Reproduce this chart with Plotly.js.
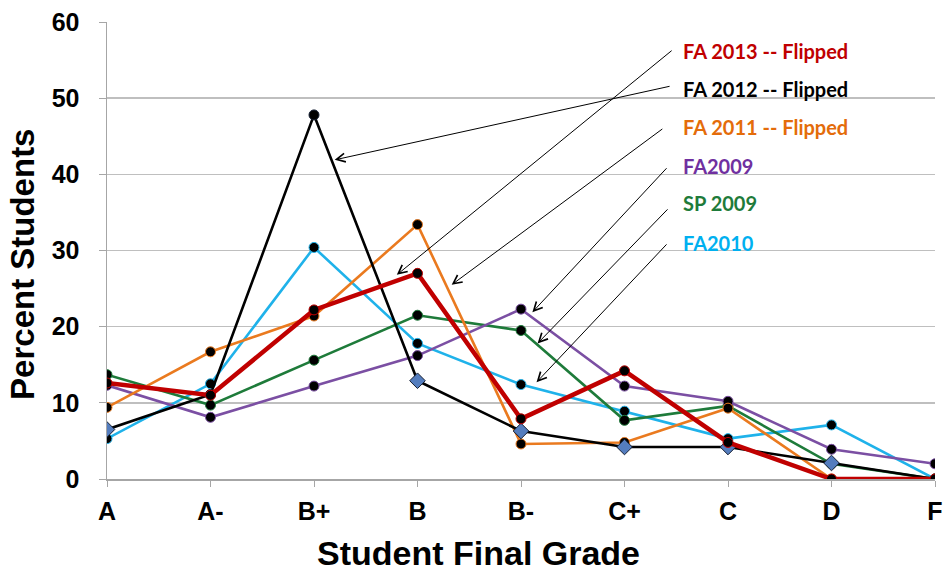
<!DOCTYPE html>
<html>
<head>
<meta charset="utf-8">
<script src="https://cdn.plot.ly/plotly-3.0.1.min.js"></script>
<style>html,body{margin:0;padding:0;background:#fff;}#chart{width:943px;height:571px;}</style>
</head>
<body>
<div id="chart"></div>
<script>
const grades = ['A','A-','B+','B','B-','C+','C','D','F'];
const fa2010 = [5.3, 12.5, 30.4, 17.8, 12.4, 8.9, 5.3, 7.1, 0];
const sp2009 = [13.7, 9.7, 15.6, 21.5, 19.5, 7.7, 9.6, 2.0, 0];
const fa2009 = [12.3, 8.1, 12.2, 16.2, 22.3, 12.2, 10.2, 3.9, 2.0];
const fa2011 = [9.4, 16.7, 21.4, 33.4, 4.6, 4.8, 9.3, 0, 0];
const fa2012 = [6.5, 11.1, 47.8, 12.9, 6.3, 4.2, 4.2, 2.1, 0];
const fa2013 = [12.6, 11.0, 22.2, 27.0, 7.9, 14.2, 4.8, 0, 0];
const fa2012Symbols = ['diamond','circle','circle','diamond','diamond','diamond','diamond','diamond','circle'];

const labels = [
  {text:'FA 2013 -- Flipped', color:'#c00000'},
  {text:'FA 2012 -- Flipped', color:'#000000'},
  {text:'FA 2011 -- Flipped', color:'#e46c0a'},
  {text:'FA2009', color:'#7030a0'},
  {text:'SP 2009', color:'#1e7b3a'},
  {text:'FA2010', color:'#00b0f0'}
];
// arrow heads [x,y] and tails [x,y] in data units
const arrowHeads = [[2.80,26.8],[2.20,41.9],[3.33,25.5],[4.11,21.9],[4.16,17.8],[4.15,12.7]];
const arrowTails = [[5.47,56.4],[5.45,51.6],[5.38,46.1],[5.42,41.0],[5.43,35.6],[5.42,31.0]];
const labelY = [56.2, 51.2, 46.2, 41.1, 36.2, 31.0];

const xs = grades.map((g,i)=>i);
function series(name, y, color, width, marker){
  return {x: xs, y: y, name: name, type:'scatter', mode:'lines+markers',
    line:{color:color, width:width},
    marker: marker || {color:'#000000', size:10, opacity:1, line:{color:color, width:1}}};
}
const traces = [
  series('FA2010', fa2010, '#1fb2ea', 2.6),
  series('SP 2009', sp2009, '#1e7b3a', 2.6),
  series('FA2009', fa2009, '#7b4fa3', 2.6),
  series('FA 2011', fa2011, '#ea7a1f', 2.6),
  series('FA 2012', fa2012, '#000000', 2.6, {
    symbol: fa2012Symbols,
    opacity: 1,
    color: fa2012Symbols.map(s => s==='diamond' ? 'rgb(84,125,190)' : 'rgb(0,0,0)'),
    size: fa2012Symbols.map(s => s==='diamond' ? 12 : 10),
    line:{color:'rgb(20,30,50)', width:1}}),
  series('FA 2013', fa2013, '#c00000', 4.5)
];

const annotations = [];
labels.forEach((l,i)=>{
  annotations.push({x:arrowHeads[i][0], y:arrowHeads[i][1], xref:'x', yref:'y',
    ax:arrowTails[i][0], ay:arrowTails[i][1], axref:'x', ayref:'y',
    text:'', showarrow:true, arrowhead:5, arrowsize:1.7, arrowwidth:1, arrowcolor:'#000', standoff:0});
  annotations.push({x:0.693, y:labelY[i], xref:'paper', yref:'y', xanchor:'left', yanchor:'middle',
    text:'<b>'+l.text+'</b>', showarrow:false,
    font:{family:'Lato, Open Sans, sans-serif', size:20, color:l.color}});
});
// axis titles
annotations.push({x:0.449, y:-0.162, xref:'paper', yref:'paper', xanchor:'center', yanchor:'middle',
  text:'<b>Student Final Grade</b>', showarrow:false,
  font:{family:'Liberation Sans, Arial, sans-serif', size:34, color:'#000'}});
annotations.push({x:-0.103, y:0.47, xref:'paper', yref:'paper', xanchor:'center', yanchor:'middle',
  text:'<b>Percent Students</b>', showarrow:false, textangle:-90,
  font:{family:'Liberation Sans, Arial, sans-serif', size:33, color:'#000'}});

const layout = {
  width:943, height:571,
  margin:{l:107, r:8, t:22, b:92},
  paper_bgcolor:'#fff', plot_bgcolor:'#fff',
  showlegend:false,
  font:{family:'Liberation Sans, Arial, sans-serif', color:'#000'},
  xaxis:{range:[0,8], tickvals:xs, ticktext:grades, showgrid:false, zeroline:false,
    showline:true, linecolor:'#a6a6a6', linewidth:1.5, ticks:'outside', ticklen:6, tickcolor:'#a6a6a6',
    ticklabelstandoff:3,
    tickfont:{size:25, family:'Liberation Sans, Arial, sans-serif', weight:'bold'}},
  yaxis:{range:[0,60], dtick:10, showgrid:true, gridcolor:'#bfbfbf', gridwidth:1.5, zeroline:false,
    showline:true, linecolor:'#a6a6a6', linewidth:1.5, ticks:'outside', ticklen:7, tickcolor:'#a6a6a6',
    ticklabelstandoff:14,
    tickfont:{size:25, family:'Liberation Sans, Arial, sans-serif', weight:'bold'}},
  annotations: annotations
};
Plotly.newPlot('chart', traces, layout, {displayModeBar:false, staticPlot:true});
</script>
</body>
</html>
